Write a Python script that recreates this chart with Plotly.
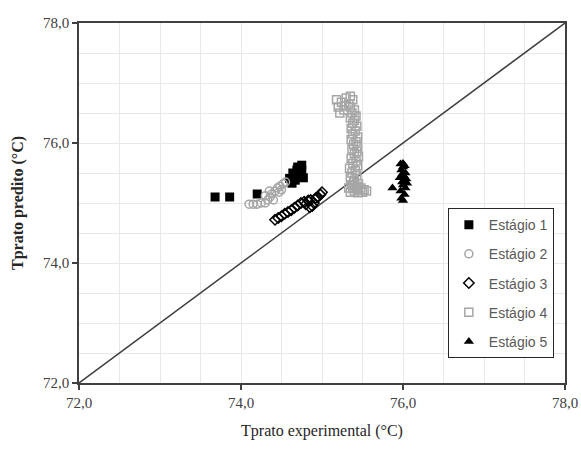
import plotly.graph_objects as go

# Estágio 1 (black filled squares)
x1 = [73.68, 73.86, 74.20, 74.60, 74.63, 74.64, 74.67, 74.69, 74.72, 74.75, 74.77, 74.75, 74.70, 74.66]
y1 = [75.10, 75.10, 75.15, 75.41, 75.33, 75.50, 75.38, 75.55, 75.45, 75.63, 75.42, 75.55, 75.60, 75.47]

# Estágio 2 (gray open circles)
x2 = [74.10, 74.15, 74.20, 74.25, 74.30, 74.33, 74.36, 74.30, 74.38, 74.42, 74.45, 74.48, 74.52, 74.55, 74.40, 74.47, 74.35, 74.50]
y2 = [74.98, 74.98, 74.98, 75.00, 75.00, 75.05, 75.10, 75.12, 75.15, 75.20, 75.25, 75.28, 75.32, 75.35, 75.05, 75.18, 75.20, 75.22]

# Estágio 3 (black open diamonds)
x3 = [74.42, 74.46, 74.50, 74.54, 74.58, 74.62, 74.66, 74.70, 74.74, 74.78, 74.80, 74.83, 74.86, 74.88, 74.92, 74.95, 74.98, 75.00, 74.85, 74.90]
y3 = [74.72, 74.75, 74.78, 74.82, 74.85, 74.88, 74.92, 74.96, 75.00, 75.02, 74.98, 75.04, 75.05, 74.95, 75.08, 75.10, 75.14, 75.18, 74.93, 75.00]

# Estágio 4 (gray open squares)
x4 = [75.18, 75.20, 75.24, 75.27, 75.30, 75.35, 75.38, 75.33, 75.22, 75.28,
      75.35, 75.40, 75.37, 75.42, 75.35, 75.40, 75.38, 75.43, 75.36, 75.41,
      75.38, 75.44, 75.36, 75.42, 75.39, 75.44, 75.37, 75.43, 75.40, 75.45,
      75.36, 75.42, 75.38, 75.44, 75.34, 75.41, 75.37, 75.43, 75.35, 75.40,
      75.39, 75.45, 75.36, 75.42, 75.38, 75.44,
      75.33, 75.40, 75.45, 75.50, 75.55, 75.38, 75.48, 75.52, 75.35, 75.44]
y4 = [76.72, 76.60, 76.68, 76.55, 76.75, 76.78, 76.72, 76.65, 76.50, 76.62,
      76.60, 76.55, 76.50, 76.45, 76.42, 76.38, 76.33, 76.28, 76.24, 76.20,
      76.15, 76.10, 76.06, 76.02, 75.98, 75.94, 75.90, 75.86, 75.82, 75.78,
      75.74, 75.70, 75.66, 75.62, 75.58, 75.54, 75.50, 75.46, 75.42, 75.38,
      75.35, 75.32, 75.30, 75.26, 75.24, 75.28,
      75.25, 75.20, 75.22, 75.18, 75.20, 75.30, 75.25, 75.22, 75.18, 75.17]

# Estágio 5 (black filled triangles)
x5 = [75.87, 75.98, 76.00, 76.02, 75.97, 76.03, 76.00, 75.99, 76.04, 75.96, 76.01, 76.03, 75.98, 76.00, 76.02, 75.99, 76.01, 76.00, 76.05, 75.97]
y5 = [75.25, 75.08, 75.04, 75.14, 75.20, 75.25, 75.30, 75.35, 75.40, 75.42, 75.45, 75.50, 75.55, 75.60, 75.62, 75.48, 75.38, 75.66, 75.33, 75.65]

diag = [72.0, 78.0]

series = [
    ("Estágio 1", x1, y1, dict(symbol="square", color="black", size=9, line=dict(width=0))),
    ("Estágio 2", x2, y2, dict(symbol="circle-open", color="#a6a6a6", size=8, line=dict(width=1.5))),
    ("Estágio 3", x3, y3, dict(symbol="diamond-open", color="black", size=8, line=dict(width=1.5))),
    ("Estágio 4", x4, y4, dict(symbol="square-open", color="#a6a6a6", size=8, line=dict(width=1.5))),
    ("Estágio 5", x5, y5, dict(symbol="triangle-up", color="black", size=9, line=dict(width=0))),
]

fig = go.Figure()
fig.add_trace(go.Scatter(x=diag, y=diag, mode="lines", line=dict(color="#404040", width=1.5),
                         showlegend=False, hoverinfo="skip"))
for i, (name, xs, ys, mk) in enumerate(series):
    fig.add_trace(go.Scatter(x=xs, y=ys, mode="markers", name=name, marker=mk,
                             legendgroup=f"g{i}"))

axis_common = dict(
    range=[72, 78], dtick=2, tick0=72, tickformat=".1f",
    showgrid=True, gridcolor="#e8e8e8", gridwidth=1,
    minor=dict(dtick=0.5, showgrid=True, gridcolor="#e8e8e8", gridwidth=1),
    showline=True, linecolor="#404040", linewidth=1.5, mirror=True,
    ticks="outside", ticklen=5, tickcolor="#404040", tickwidth=1.5,
    zeroline=False, automargin=False,
    tickfont=dict(family="Liberation Serif, Times New Roman, serif", size=15, color="#404040"),
)

fig.update_xaxes(**axis_common,
                 title=dict(text="Tprato experimental (°C)",
                            font=dict(family="Liberation Serif, Times New Roman, serif", size=16, color="#262626")))
fig.update_yaxes(**axis_common,
                 title=dict(text="<b>Tprato predito (°C)</b>",
                            font=dict(family="Liberation Serif, Times New Roman, serif", size=16, color="#262626")))

fig.update_layout(
    width=581, height=450,
    margin=dict(l=79, r=16, t=23, b=67, autoexpand=False),
    paper_bgcolor="white", plot_bgcolor="white",
    separators=",.",
    showlegend=True,
    legend=dict(
        x=0.759, y=0.486, xanchor="left", yanchor="top",
        bgcolor="white", bordercolor="#262626", borderwidth=1,
        font=dict(family="Liberation Sans Narrow, Liberation Sans, sans-serif", size=14, color="#595959"),
        tracegroupgap=8, traceorder="grouped",
        itemwidth=30,
    ),
)

fig.write_html("out.html",
               config={"displayModeBar": False},
               post_script="document.body.style.margin='0px';document.body.style.overflow='hidden';")
